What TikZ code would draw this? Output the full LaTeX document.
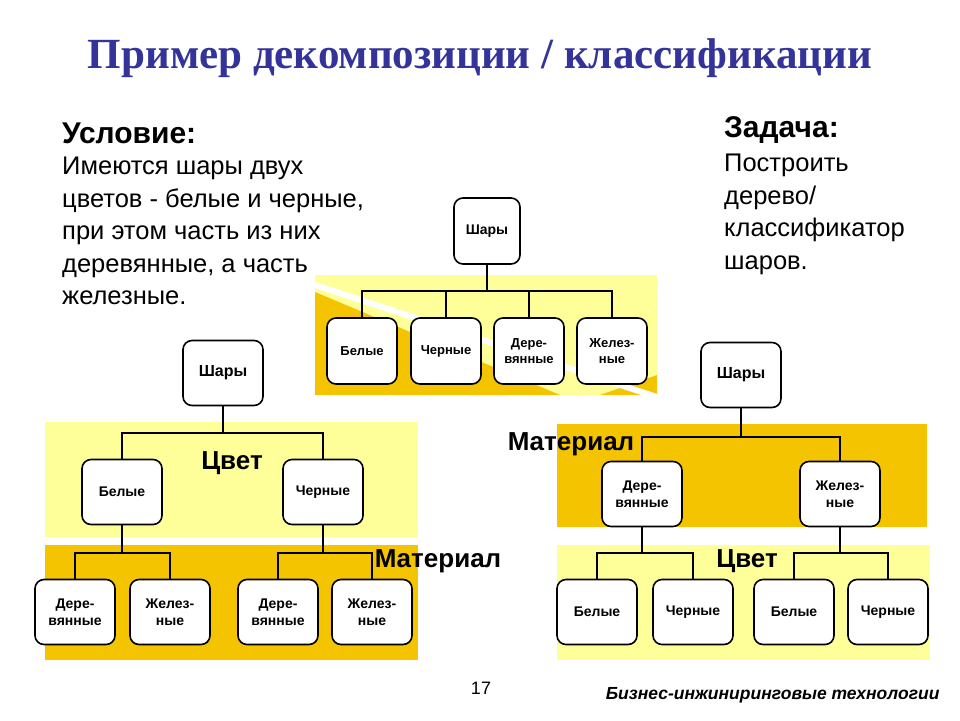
\documentclass[tikz,border=0pt]{standalone}
\usepackage{fontspec}
\setmainfont{Liberation Sans}
\newfontfamily\serifb{Liberation Serif}
\definecolor{pale}{HTML}{FFFF99}
\definecolor{gold}{HTML}{F5C400}
\definecolor{ttl}{HTML}{333399}
\tikzset{
 box/.style={draw,line width=1.6pt,rounded corners=9pt,fill=white,minimum width=80pt,minimum height=65pt,align=center,font=\fontsize{14}{17}\selectfont\bfseries,inner sep=1pt},
 sbox/.style={box,minimum width=70pt,minimum height=66pt,font=\fontsize{13}{16}\selectfont\bfseries},
 con/.style={line width=1.4pt},
 lab/.style={font=\fontsize{26}{28}\selectfont\bfseries},
 head/.style={anchor=west,font=\fontsize{30}{33}\selectfont\bfseries,inner sep=0pt},
 body/.style={anchor=north west,align=left,font=\fontsize{25.5}{32.5}\selectfont,inner sep=0pt}
}
\begin{document}
\begin{tikzpicture}[x=1pt,y=-1pt]
\useasboundingbox (0,0) rectangle (960,720);
% title
\node[font=\serifb\fontsize{43}{46}\selectfont\bfseries,text=ttl] (title) at (480,58) {Пример декомпозиции / классификации};
% texts
\node[head] (usl) at (62,133) {Условие:};
\node[body] (uslt) at (62,157) {Имеются шары двух\\цветов - белые и черные,\\при этом часть из них\\деревянные, а часть\\железные.};
% top middle diagram background
\fill[pale] (315,275) rectangle (657,395);
\fill[gold] (315,292) -- (560,395) -- (315,395) -- cycle;
\fill[gold] (600,395) -- (657,375) -- (657,395) -- cycle;
\draw[white,line width=6pt] (315,285) -- (660,398);
\node[sbox,minimum width=66pt,font=\fontsize{14}{17}\selectfont\bfseries] (t0) at (487,231) {Шары};
\node[sbox] (t1) at (362,351) {Белые};
\node[sbox] (t2) at (446,351) {Черные};
\node[sbox] (t3) at (529,351) {Дере-\\вянные};
\node[sbox] (t4) at (612,351) {Желез-\\ные};
\draw[con] (t0.south) -- (487,291);
\draw[con] (t1.north) |- (t4.north |- 0,291) -- (t4.north);
\draw[con] (t2.north) -- (446,291) (t3.north) -- (529,291);
\node[head] (zadh) at (724,130) {Задача:};
\node[body] (zad) at (724,154) {Построить\\дерево/\\классификатор\\шаров.};
% left diagram
\fill[pale] (45,422) rectangle (418,537);
\fill[gold] (45,545) rectangle (418,660);
\node[box,font=\fontsize{16}{18}\selectfont\bfseries] (l0) at (223,373) {Шары};
\node[box] (l1) at (122,492) {Белые};
\node[box] (l2) at (323,492) {Черные};
\node[box] (l11) at (75,612) {Дере-\\вянные};
\node[box] (l12) at (170,612) {Желез-\\ные};
\node[box] (l21) at (278,612) {Дере-\\вянные};
\node[box] (l22) at (372,612) {Желез-\\ные};
\draw[con] (l0.south) -- (223,433);
\draw[con] (l1.north) |- (323,433) -- (l2.north);
\draw[con] (l1.south) -- (122,553) (l11.north) |- (170,553) -- (l12.north);
\draw[con] (l2.south) -- (323,553) (l21.north) |- (372,553) -- (l22.north);
\node[lab] (c1) at (232,463) {Цвет};
\node[lab] (m1) at (438,561) {Материал};
% right diagram
\fill[gold] (557,424) rectangle (927,527);
\fill[pale] (557,545) rectangle (930,660);
\node[box,font=\fontsize{16}{18}\selectfont\bfseries] (r0) at (741,375) {Шары};
\node[box] (r1) at (642,494) {Дере-\\вянные};
\node[box] (r2) at (840,494) {Желез-\\ные};
\node[box] (r11) at (597,612) {Белые};
\node[box] (r12) at (693,612) {Черные};
\node[box] (r21) at (794,612) {Белые};
\node[box] (r22) at (888,612) {Черные};
\draw[con] (r0.south) -- (741,437);
\draw[con] (r1.north) |- (840,437) -- (r2.north);
\draw[con] (r1.south) -- (642,553) (r11.north) |- (693,553) -- (r12.north);
\draw[con] (r2.south) -- (840,553) (r21.north) |- (888,553) -- (r22.north);
\node[lab] (m2) at (571,444) {Материал};
\node[lab] (c2) at (747,561) {Цвет};
% footer
\node[font=\fontsize{18}{20}\selectfont] (pg) at (481,688) {17};
\node[anchor=east,font=\fontsize{17.5}{19}\selectfont\bfseries\itshape] (ft) at (943,695) {Бизнес-инжиниринговые технологии};
\end{tikzpicture}
\end{document}
